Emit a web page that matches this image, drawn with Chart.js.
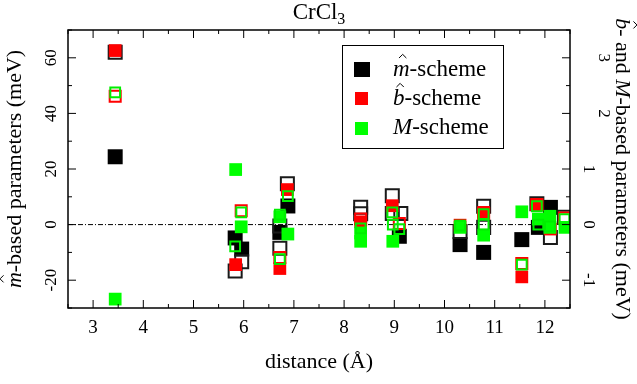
<!DOCTYPE html>
<html><head><meta charset="utf-8">
<script src="https://cdn.jsdelivr.net/npm/chart.js@4/dist/chart.umd.min.js"></script>
<style>html,body{margin:0;padding:0;background:#fff;}#wrap{width:637px;height:384px;}</style>
</head><body><div id="wrap"><canvas id="c" width="637" height="384"></canvas></div>
<script>
// ---- tick labels ----
const xTicks = [3, 4, 5, 6, 7, 8, 9, 10, 11, 12];
const xMinorTicks = [2.5, 3.5, 4.5, 5.5, 6.5, 7.5, 8.5, 9.5, 10.5, 11.5, 12.5];
const yTicks = [-20, 0, 20, 40, 60];
const yMinorTicks = [-30, -10, 10, 30, 50, 70];
const y2Ticks = [-1, 0, 1, 2, 3];
const y2MinorTicks = [-1.5, -0.5, 0.5, 1.5, 2.5, 3.5];

// ---- series: m-hat scheme (meV, left axis) ----
const mFilledX = [3.44, 5.83, 5.96, 6.88, 6.72, 9.10, 10.31, 10.78, 11.54, 12.11, 11.87];
const mFilledY = [24.4, -4.8, -8.8, 6.7, -2.8, -4.2, -7.2, -10.0, -5.4, 6.2, -1.0];
const mHollowX = [3.44, 5.96, 5.83, 6.87, 6.72, 6.72, 8.33, 8.33, 8.96, 8.96, 9.13, 10.31, 10.78, 10.78, 11.84, 12.11, 12.39];
const mHollowY = [62.0, -13.4, -16.7, 14.7, -0.5, -8.5, 6.2, 3.9, 10.4, 4.0, 4.0, -2.5, 6.6, -1.0, 7.5, -4.6, 2.6];
// ---- b-hat scheme (meV, right axis) ----
const bFilledX = [3.44, 5.84, 6.87, 6.72, 8.33, 8.96, 10.31, 10.78, 11.54, 11.84, 12.11];
const bFilledY = [3.13, -0.72, 0.63, -0.79, 0.05, 0.34, -0.01, 0.22, -0.94, 0.36, -0.08];
const bHollowX = [3.44, 5.95, 6.72, 8.33, 9.10, 10.78, 11.54, 11.84, 12.39];
const bHollowY = [2.31, 0.25, -0.59, 0.10, 0.02, 0.20, -0.70, 0.36, 0.12];
// ---- M scheme (meV, right axis) ----
const MFilledX = [3.44, 5.84, 5.95, 6.72, 6.88, 8.33, 8.33, 8.97, 10.31, 10.78, 11.54, 11.87, 12.10, 12.10, 12.40];
const MFilledY = [-1.34, 0.99, -0.04, 0.14, -0.17, -0.15, -0.30, -0.30, -0.05, -0.19, 0.23, 0.10, 0.15, -0.05, -0.05];
const MHollowX = [3.44, 5.95, 5.83, 6.88, 6.72, 6.72, 8.33, 8.96, 8.97, 9.10, 10.31, 10.78, 10.78, 11.54, 11.84, 11.87, 12.10, 12.39];
const MHollowY = [2.38, 0.22, -0.39, 0.51, 0.18, -0.62, -0.07, 0.22, 0.00, -0.08, -0.02, 0.19, 0.00, -0.72, 0.33, 0.00, -0.03, 0.10];

const FONT = "'Liberation Serif','Times New Roman',serif";
const pts = (xs, ys) => xs.map((x, i) => ({x: x, y: ys[i]}));

function ds(label, xs, ys, axis, color, filled, r, order) {
  return {
    label: label, data: pts(xs, ys), yAxisID: axis, order: order,
    pointStyle: 'rect', pointRadius: r, pointHoverRadius: r,
    backgroundColor: filled ? color : 'rgba(0,0,0,0)',
    borderColor: color, borderWidth: filled ? 0 : 2, showLine: false
  };
}

// rich text: segs = [[text, style]], style: '' | 'i' | 'ih' (italic+hat) | 'sub'
function drawRich(ctx, segs, cx, cy, rot, size, align) {
  ctx.save();
  ctx.translate(cx, cy);
  ctx.rotate(rot);
  const fontOf = s => (s[1] && s[1][0] === 'i' ? 'italic ' : '') + Math.round(s[1] === 'sub' ? size * 0.7 : size) + 'px ' + FONT;
  const w = segs.map(s => { ctx.font = fontOf(s); return ctx.measureText(s[0]).width; });
  const total = w.reduce((a, b) => a + b, 0);
  let x = align === 'left' ? 0 : align === 'right' ? -total : -total / 2;
  ctx.textBaseline = 'middle';
  ctx.textAlign = 'left';
  ctx.fillStyle = '#000';
  segs.forEach((s, i) => {
    ctx.font = fontOf(s);
    ctx.fillText(s[0], x, s[1] === 'sub' ? size * 0.3 : 0);
    if (s[1] === 'ih') {
      const hx = x + w[i] / 2 + size * 0.06, hy = -size * 0.62;
      ctx.beginPath();
      ctx.lineWidth = 1;
      ctx.strokeStyle = '#000';
      ctx.moveTo(hx - size * 0.16, hy + size * 0.1);
      ctx.lineTo(hx, hy - size * 0.06);
      ctx.lineTo(hx + size * 0.16, hy + size * 0.1);
      ctx.stroke();
    }
    x += w[i];
  });
  ctx.restore();
}

const decor = {
  id: 'decor',
  beforeDatasetsDraw(chart) {
    const ctx = chart.ctx, a = chart.chartArea, ys = chart.scales.y;
    const y0 = ys.getPixelForValue(0);
    ctx.save();
    ctx.strokeStyle = '#000';
    ctx.lineWidth = 1;
    ctx.setLineDash([5, 2, 1, 2]);
    ctx.beginPath();
    ctx.moveTo(a.left, y0); ctx.lineTo(a.right, y0);
    ctx.stroke();
    ctx.restore();
  },
  afterDatasetsDraw(chart) {
    const ctx = chart.ctx, a = chart.chartArea;
    const xs = chart.scales.x, ys = chart.scales.y, y2 = chart.scales.y2;
    ctx.save();
    ctx.strokeStyle = '#000';
    ctx.lineWidth = 1;
    ctx.beginPath();
    const tick = (x1, y1, x2, y2_) => { ctx.moveTo(x1, y1); ctx.lineTo(x2, y2_); };
    xTicks.forEach(v => { const p = xs.getPixelForValue(v); tick(p, a.bottom, p, a.bottom - 8); tick(p, a.top, p, a.top + 8); });
    xMinorTicks.forEach(v => { const p = xs.getPixelForValue(v); tick(p, a.bottom, p, a.bottom - 4); tick(p, a.top, p, a.top + 4); });
    yTicks.forEach(v => { const p = ys.getPixelForValue(v); tick(a.left, p, a.left + 8, p); });
    yMinorTicks.forEach(v => { const p = ys.getPixelForValue(v); tick(a.left, p, a.left + 4, p); });
    y2Ticks.forEach(v => { const p = y2.getPixelForValue(v); tick(a.right, p, a.right - 8, p); });
    y2MinorTicks.forEach(v => { const p = y2.getPixelForValue(v); tick(a.right, p, a.right - 4, p); });
    ctx.stroke();
    ctx.lineWidth = 1.5;
    ctx.strokeRect(a.left, a.top, a.right - a.left, a.bottom - a.top);

    // tick labels
    xTicks.forEach(v => drawRich(ctx, [[String(v), '']], xs.getPixelForValue(v), 328, 0, 19, 'center'));
    yTicks.forEach(v => drawRich(ctx, [[String(v), '']], 52, ys.getPixelForValue(v), -Math.PI / 2, 17, 'center'));
    y2Ticks.forEach(v => drawRich(ctx, [[String(v), '']], v >= 2 ? 603 : 588, y2.getPixelForValue(v), Math.PI / 2, 17, 'center'));

    // titles
    const cx = (a.left + a.right) / 2, cy = (a.top + a.bottom) / 2;
    drawRich(ctx, [['CrCl', ''], ['3', 'sub']], cx, 13, 0, 23, 'center');
    drawRich(ctx, [['distance (Å)', '']], cx, 362, 0, 22, 'center');
    drawRich(ctx, [['m', 'ih'], ['-based parameters (meV)', '']], 15, cy, -Math.PI / 2, 22, 'center');
    drawRich(ctx, [['b', 'ih'], ['- and ', ''], ['M', 'i'], ['-based parameters (meV)', '']], 622, cy, Math.PI / 2, 22, 'center');

    // legend box
    ctx.lineWidth = 1;
    ctx.strokeStyle = '#000';
    ctx.strokeRect(342.5, 45.5, 161, 103);
    ctx.fillStyle = '#000'; ctx.fillRect(354, 62, 16, 15);
    ctx.fillStyle = '#ff0000'; ctx.fillRect(355, 92, 13, 13);
    ctx.fillStyle = '#00ff00'; ctx.fillRect(355, 122, 13, 13);
    drawRich(ctx, [['m', 'ih'], ['-scheme', '']], 393, 70, 0, 23, 'left');
    drawRich(ctx, [['b', 'ih'], ['-scheme', '']], 393, 99, 0, 23, 'left');
    drawRich(ctx, [['M', 'i'], ['-scheme', '']], 393, 128, 0, 23, 'left');
    ctx.restore();
  }
};

const setTicks = arr => s => { s.ticks = arr.map(v => ({value: v})); };

new Chart(document.getElementById('c'), {
  type: 'scatter',
  data: {
    datasets: [
      ds('m-scheme', mFilledX, mFilledY, 'y', '#000000', true, 10.6, 6),
      ds('m-scheme (open)', mHollowX, mHollowY, 'y', '#1a1a1a', false, 9.2, 5),
      ds('b-scheme', bFilledX, bFilledY, 'y2', '#ff0000', true, 9.0, 4),
      ds('b-scheme (open)', bHollowX, bHollowY, 'y2', '#ff0000', false, 7.8, 3),
      ds('M-scheme', MFilledX, MFilledY, 'y2', '#00ff00', true, 9.0, 2),
      ds('M-scheme (open)', MHollowX, MHollowY, 'y2', '#00ee00', false, 6.9, 1)
    ]
  },
  options: {
    responsive: false,
    animation: false,
    events: [],
    layout: {padding: {top: 30, left: 0, right: 0, bottom: 0}},
    plugins: {legend: {display: false}, tooltip: {enabled: false}, title: {display: false}},
    scales: {
      x: {type: 'linear', position: 'bottom', min: 2.5, max: 12.5,
          afterBuildTicks: setTicks(xTicks), afterFit: s => { s.height = 76; },
          ticks: {display: false}, grid: {display: false}, border: {display: false}},
      y: {type: 'linear', position: 'left', min: -30, max: 70,
          afterBuildTicks: setTicks(yTicks), afterFit: s => { s.width = 68; },
          ticks: {display: false}, grid: {display: false}, border: {display: false}},
      y2: {type: 'linear', position: 'right', min: -1.5, max: 3.5,
          afterBuildTicks: setTicks(y2Ticks), afterFit: s => { s.width = 67; },
          ticks: {display: false}, grid: {display: false}, border: {display: false}}
    }
  },
  plugins: [decor]
});
</script>
</body></html>
